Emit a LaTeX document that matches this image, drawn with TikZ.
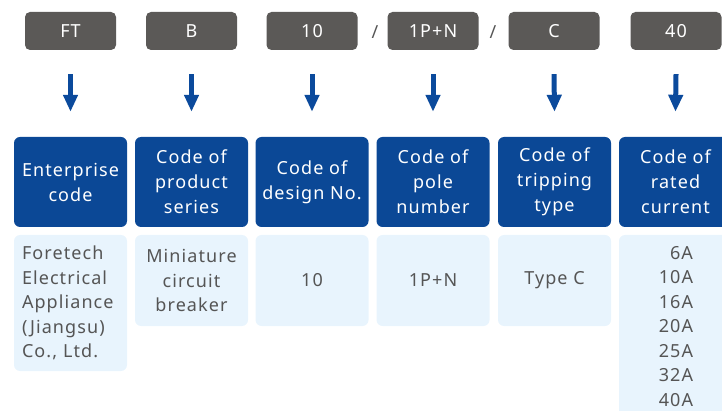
\documentclass[tikz,border=0pt]{standalone}
\usepackage{fontspec}
\setmainfont[LetterSpace=6]{Noto Sans}
\usetikzlibrary{arrows.meta}
\definecolor{graybox}{HTML}{5B5957}
\definecolor{bluebox}{HTML}{0B4896}
\definecolor{arrowblue}{HTML}{0B4A9C}
\definecolor{lightbox}{HTML}{E8F4FD}
\definecolor{txtgray}{HTML}{555555}
\begin{document}
\begin{tikzpicture}[x=1pt,y=-1pt,
  codebox/.style={fill=graybox, text=white, rounded corners=5pt, minimum width=91pt, minimum height=38pt, inner sep=0pt, font=\fontsize{18}{20}\selectfont},
  headbox/.style={fill=bluebox, text=white, rounded corners=6pt, minimum width=113pt, minimum height=90pt, inner sep=0pt, align=center, font=\fontsize{18}{25}\selectfont},
  descbox/.style={fill=lightbox, text=txtgray, rounded corners=6pt, minimum width=113pt, inner sep=0pt, font=\fontsize{18}{24.5}\selectfont},
  slash/.style={text=txtgray, inner sep=0pt, font=\fontsize{18}{20}\selectfont},
  arr/.style={draw=arrowblue, line width=5pt, -{Triangle[width=14pt,length=17pt]}}
]
\useasboundingbox (0,0) rectangle (722,411);
\clip (0,0) rectangle (722,411);
% code boxes
\node[codebox] (ft) at (70.5,31) {FT};
\node[codebox] (b) at (191.5,31) {B};
\node[codebox] (ten) at (312,31) {10};
\node[codebox] (pole) at (433,31) {1P+N};
\node[codebox] (c) at (554,31) {C};
\node[codebox] (forty) at (676,31) {40};
\node[slash] (s1) at (375,32) {/};
\node[slash] (s2) at (493,32) {/};
% header boxes
\node[headbox] (ent) at (70.5,182) {Enterprise\\code};
\node[headbox] (prod) at (191.5,182) {Code of\\product\\series};
\node[headbox] (des) at (312,182) {Code of\\design No.};
\node[headbox] (pol) at (433,182) {Code of\\pole\\number};
\node[headbox] (trip) at (554.5,182) {Code of\\tripping\\type};
\node[headbox] (rat) at (675.5,182) {Code of\\rated\\current};
% arrows
\foreach \s/\t in {ft/ent, b/prod, ten/des, pole/pol, c/trip, forty/rat}
  \draw[arr] ([yshift=-24pt]\s.south) -- ([yshift=25pt]\t.north);
% description boxes
\node[descbox, minimum height=136pt, text width=97pt, align=left] (dent) at (70.5,303) {Foretech\\Electrical\\Appliance\\(Jiangsu)\\Co., Ltd.};
\node[descbox, minimum height=91pt, align=center] (dprod) at (191.5,280.5) {Miniature\\circuit\\breaker};
\node[descbox, minimum height=91pt] (ddes) at (312,280.5) {10};
\node[descbox, minimum height=91pt] (dpol) at (433,280.5) {1P+N};
\node[descbox, minimum height=91pt] (dtrip) at (554.5,280.5) {Type C};
\node[descbox, minimum height=183pt, text width=35pt, align=right] (drat) at (675.5,326.5) {6A\\10A\\16A\\20A\\25A\\32A\\40A};
\end{tikzpicture}
\end{document}
